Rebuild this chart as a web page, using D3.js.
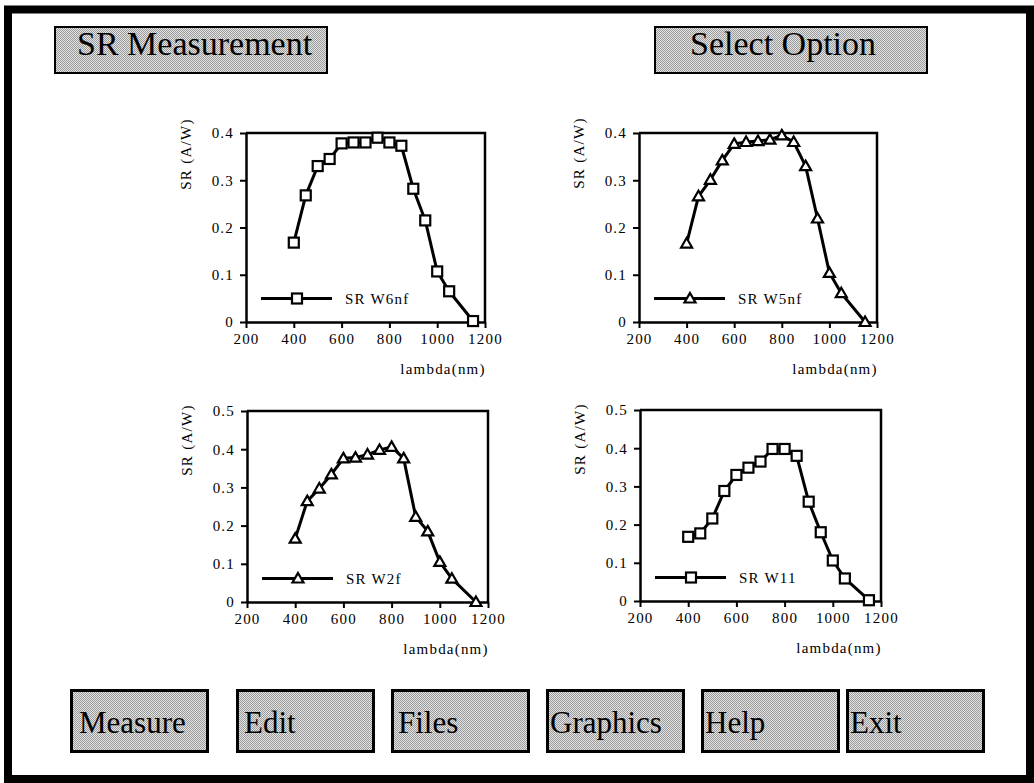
<!DOCTYPE html>
<html>
<head>
<meta charset="utf-8">
<script src="https://cdn.jsdelivr.net/npm/d3@7.9.0/dist/d3.min.js"></script>
<style>
  html, body { margin: 0; padding: 0; background: #fff; }
  svg { display: block; }
  text { font-family: "Liberation Serif", "Times New Roman", serif; fill: #000; }
  .tick text { font-size: 15px; letter-spacing: 1.2px; }
</style>
</head>
<body>
<div id="chart"></div>
<script>
// ===============================
// DATA
// ===============================
const wavelengths = [400, 450, 500, 550, 600, 650, 700, 750, 800, 850, 900, 950, 1000, 1050, 1150];
const srW6nf = [0.168, 0.268, 0.330, 0.345, 0.378, 0.380, 0.380, 0.390, 0.380, 0.373, 0.282, 0.215, 0.107, 0.065, 0.002];
const srW5nf = [0.166, 0.266, 0.301, 0.342, 0.377, 0.381, 0.383, 0.386, 0.395, 0.381, 0.330, 0.219, 0.104, 0.061, 0.000];
const srW2f  = [0.166, 0.264, 0.297, 0.334, 0.376, 0.378, 0.386, 0.398, 0.406, 0.376, 0.223, 0.185, 0.105, 0.061, 0.000];
const srW11  = [0.168, 0.177, 0.216, 0.288, 0.330, 0.349, 0.365, 0.398, 0.398, 0.380, 0.260, 0.180, 0.106, 0.059, 0.002];

const xTicks = [200, 400, 600, 800, 1000, 1200];
const yTicksTop = [0, 0.1, 0.2, 0.3, 0.4];
const yTicksBottom = [0, 0.1, 0.2, 0.3, 0.4, 0.5];

const seriesNames = ["SR W6nf", "SR W5nf", "SR W2f", "SR W11"];
const titleLabels = ["SR Measurement", "Select Option"];
const buttonLabels = ["Measure", "Edit", "Files", "Graphics", "Help", "Exit"];

// ===============================
// LAYOUT
// ===============================
const W = 1034, H = 783;
const panels = [
  { values: srW6nf, name: seriesNames[0], marker: "square",   yTicks: yTicksTop,    left: 246, right: 485, top: 133, bottom: 322, labelY: 154 },
  { values: srW5nf, name: seriesNames[1], marker: "triangle", yTicks: yTicksTop,    left: 639, right: 877, top: 133, bottom: 322, labelY: 153 },
  { values: srW2f,  name: seriesNames[2], marker: "triangle", yTicks: yTicksBottom, left: 247, right: 488, top: 411, bottom: 602, labelY: 440 },
  { values: srW11,  name: seriesNames[3], marker: "square",   yTicks: yTicksBottom, left: 640, right: 881, top: 410, bottom: 601, labelY: 439 },
];
const titleBoxes = [
  { x: 55, y: 27, w: 272, h: 46, tx: 77 },
  { x: 655, y: 27, w: 272, h: 46, tx: 690 },
];
const buttonBoxes = [
  { x: 71, tx: 79 }, { x: 237, tx: 244 }, { x: 392, tx: 398 },
  { x: 547, tx: 550 }, { x: 702, tx: 705 }, { x: 847, tx: 850 },
];

const svg = d3.select("#chart").append("svg")
  .attr("width", W).attr("height", H);

// dithered gray fill like the old screen
const defs = svg.append("defs");
const pat = defs.append("pattern")
  .attr("id", "dither").attr("width", 2).attr("height", 2)
  .attr("patternUnits", "userSpaceOnUse");
pat.append("rect").attr("width", 2).attr("height", 2).attr("fill", "#e4e4e4");
pat.append("rect").attr("width", 1).attr("height", 1).attr("fill", "#9a9a9a");
pat.append("rect").attr("x", 1).attr("y", 1).attr("width", 1).attr("height", 1).attr("fill", "#9a9a9a");

// outer frame
svg.append("rect")
  .attr("x", 8).attr("y", 9.5).attr("width", 1022).attr("height", 769.5)
  .attr("fill", "none").attr("stroke", "#000").attr("stroke-width", 8);

// title boxes
const titles = svg.append("g").selectAll("g")
  .data(titleLabels)
  .join("g");
titles.append("rect")
  .attr("x", (d, i) => titleBoxes[i].x).attr("y", (d, i) => titleBoxes[i].y)
  .attr("width", (d, i) => titleBoxes[i].w).attr("height", (d, i) => titleBoxes[i].h)
  .attr("fill", "url(#dither)").attr("stroke", "#000").attr("stroke-width", 2)
  .attr("shape-rendering", "crispEdges");
titles.append("text")
  .attr("x", (d, i) => titleBoxes[i].tx).attr("y", 55)
  .attr("font-size", 34)
  .text(d => d);

// buttons
const buttons = svg.append("g").selectAll("g")
  .data(buttonLabels)
  .join("g");
buttons.append("rect")
  .attr("x", (d, i) => buttonBoxes[i].x).attr("y", 690)
  .attr("width", 136).attr("height", 61)
  .attr("fill", "url(#dither)").attr("stroke", "#000").attr("stroke-width", 3)
  .attr("shape-rendering", "crispEdges");
buttons.append("text")
  .attr("x", (d, i) => buttonBoxes[i].tx).attr("y", 733)
  .attr("font-size", 31)
  .text(d => d);

// ===============================
// MARKERS
// ===============================
function drawMarker(sel, type) {
  if (type === "square") {
    sel.append("rect")
      .attr("x", -5).attr("y", -5).attr("width", 10).attr("height", 10)
      .attr("fill", "#fff").attr("stroke", "#000").attr("stroke-width", 2.2);
  } else {
    sel.append("path")
      .attr("d", "M0,-5.5L5.5,4L-5.5,4Z")
      .attr("fill", "#fff").attr("stroke", "#000").attr("stroke-width", 2.2)
      .attr("stroke-linejoin", "miter");
  }
}

// ===============================
// PANELS
// ===============================
panels.forEach(p => {
  const g = svg.append("g");
  const x = d3.scaleLinear().domain([200, 1200]).range([p.left, p.right]);
  const yMax = d3.max(p.yTicks);
  const y = d3.scaleLinear().domain([0, yMax]).range([p.bottom, p.top]);

  // frame top and right
  g.append("path")
    .attr("d", `M${p.left},${p.top}H${p.right}V${p.bottom}`)
    .attr("fill", "none").attr("stroke", "#000").attr("stroke-width", 2.5);

  const xAxis = g.append("g")
    .attr("transform", `translate(0,${p.bottom})`)
    .call(d3.axisBottom(x).tickValues(xTicks).tickSize(6).tickSizeOuter(0).tickPadding(5).tickFormat(d3.format("d")));
  const yAxis = g.append("g")
    .attr("transform", `translate(${p.left},0)`)
    .call(d3.axisLeft(y).tickValues(p.yTicks).tickSize(6).tickSizeOuter(0).tickPadding(6)
      .tickFormat(d => d === 0 ? "0" : d3.format(".1f")(d)));
  [xAxis, yAxis].forEach(a => {
    a.attr("font-family", null).attr("font-size", null);
    a.select(".domain").attr("stroke-width", 2.5);
    a.selectAll(".tick line").attr("stroke-width", 2);
  });

  // axis titles
  g.append("text")
    .attr("transform", `translate(${p.left - 60},${p.labelY}) rotate(-90)`)
    .attr("text-anchor", "middle").attr("dy", "0.35em")
    .attr("font-size", 15).attr("letter-spacing", 1.3)
    .text("SR (A/W)");
  g.append("text")
    .attr("x", p.right - 42).attr("y", p.bottom + 52)
    .attr("text-anchor", "middle")
    .attr("font-size", 15).attr("letter-spacing", 1.2)
    .text("lambda(nm)");

  // series line
  const pts = wavelengths.map((w, i) => [w, p.values[i]]);
  g.append("path")
    .datum(pts)
    .attr("fill", "none").attr("stroke", "#000").attr("stroke-width", 3)
    .attr("stroke-linejoin", "round")
    .attr("d", d3.line().x(d => x(d[0])).y(d => y(d[1])));

  g.append("g").selectAll("g")
    .data(pts)
    .join("g")
    .attr("transform", d => `translate(${x(d[0])},${y(d[1])})`)
    .each(function () { drawMarker(d3.select(this), p.marker); });

  // legend
  const ly = p.bottom - 23.5;
  g.append("line")
    .attr("x1", p.left + 15).attr("x2", p.left + 86)
    .attr("y1", ly).attr("y2", ly)
    .attr("stroke", "#000").attr("stroke-width", 3);
  drawMarker(g.append("g").attr("transform", `translate(${p.left + 51},${ly})`), p.marker);
  g.append("text")
    .attr("x", p.left + 99).attr("y", ly + 5)
    .attr("font-size", 15).attr("letter-spacing", 1.2)
    .text(p.name);
});
</script>
</body>
</html>
